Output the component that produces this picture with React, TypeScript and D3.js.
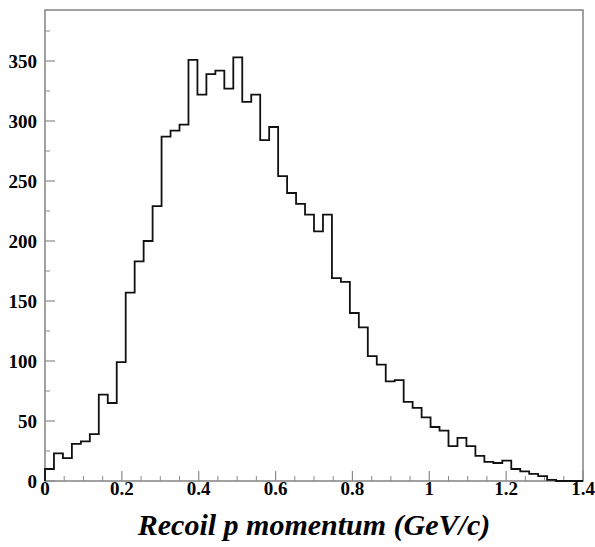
import React from "react";
import * as d3 from "d3";

// 60 bins of width 1.4/60 GeV/c, counts
const binEdgesMax = 1.4;
const counts = [
  10, 23, 19, 31, 33, 39, 72, 65, 99, 157,
  183, 200, 229, 287, 292, 297, 351, 322, 339, 342,
  327, 353, 316, 322, 284, 295, 254, 240, 231, 222,
  208, 222, 169, 166, 140, 128, 104, 97, 83, 84,
  66, 61, 53, 45, 42, 29, 36, 29, 21, 16,
  15, 17, 10, 8, 6, 4, 1, 0, 0, 0,
];
const xMajor = [0, 0.2, 0.4, 0.6, 0.8, 1, 1.2, 1.4];
const yMajor = [0, 50, 100, 150, 200, 250, 300, 350];
const xTitle = "Recoil p momentum (GeV/c)";

const W = 595;
const H = 547;
const margin = { top: 10, right: 12, bottom: 66, left: 45 };

const App = () => {
  const x = d3
    .scaleLinear()
    .domain([0, binEdgesMax])
    .range([margin.left, W - margin.right]);
  const y = d3
    .scaleLinear()
    .domain([0, 392.5])
    .range([H - margin.bottom, margin.top]);

  const bw = binEdgesMax / counts.length;
  const pts: [number, number][] = [[0, 0]];
  counts.forEach((c, i) => {
    pts.push([i * bw, c]);
    pts.push([(i + 1) * bw, c]);
  });
  pts.push([binEdgesMax, 0]);
  const line = d3
    .line<[number, number]>()
    .x((d) => x(d[0]))
    .y((d) => y(d[1]));

  const xMinor = d3.range(0, 28).map((i) => i * 0.05).filter((v) => Math.round(v * 100) % 20 !== 0);
  const yMinor = d3.range(0, 16).map((i) => i * 25).filter((v) => v % 50 !== 0);

  const [x0, x1] = x.range();
  const [y0, y1] = y.range();
  const axisColor = "#8a8a8a";

  return (
    <svg
      width={W}
      height={H}
      style={{ position: "absolute", left: 0, top: 0, background: "#fff" }}
      fontFamily="'Liberation Serif', 'DejaVu Serif', serif"
    >
      {/* frame */}
      <rect
        x={x0}
        y={y1}
        width={x1 - x0}
        height={y0 - y1}
        fill="none"
        stroke={axisColor}
        strokeWidth={1.6}
      />

      {/* x ticks */}
      {xMajor.map((v) => (
        <line key={"xM" + v} x1={x(v)} x2={x(v)} y1={y0} y2={y0 - 10} stroke={axisColor} strokeWidth={1.2} />
      ))}
      {xMinor.map((v) => (
        <line key={"xm" + v} x1={x(v)} x2={x(v)} y1={y0} y2={y0 - 5} stroke={axisColor} strokeWidth={1} />
      ))}
      {xMajor.map((v) => (
        <text
          key={"xl" + v}
          x={x(v)}
          y={y0 + 14}
          textAnchor="middle"
          fontWeight="bold"
          fontSize={19}
        >
          {d3.format("~g")(v)}
        </text>
      ))}

      {/* y ticks */}
      {yMajor.map((v) => (
        <line key={"yM" + v} x1={x0} x2={x0 + 10} y1={y(v)} y2={y(v)} stroke={axisColor} strokeWidth={1.2} />
      ))}
      {yMinor.map((v) => (
        <line key={"ym" + v} x1={x0} x2={x0 + 5} y1={y(v)} y2={y(v)} stroke={axisColor} strokeWidth={1} />
      ))}
      {yMajor.map((v) => (
        <text
          key={"yl" + v}
          x={x0 - 8}
          y={y(v) + 6.5}
          textAnchor="end"
          fontWeight="bold"
          fontSize={19}
        >
          {v}
        </text>
      ))}

      {/* histogram */}
      <path d={line(pts) || ""} fill="none" stroke="#111" strokeWidth={1.8} />

      {/* axis title */}
      <text
        x={(x0 + x1) / 2}
        y={535}
        textAnchor="middle"
        fontWeight="bold"
        fontStyle="italic"
        fontSize={30}
      >
        {xTitle}
      </text>
    </svg>
  );
};

export default App;
